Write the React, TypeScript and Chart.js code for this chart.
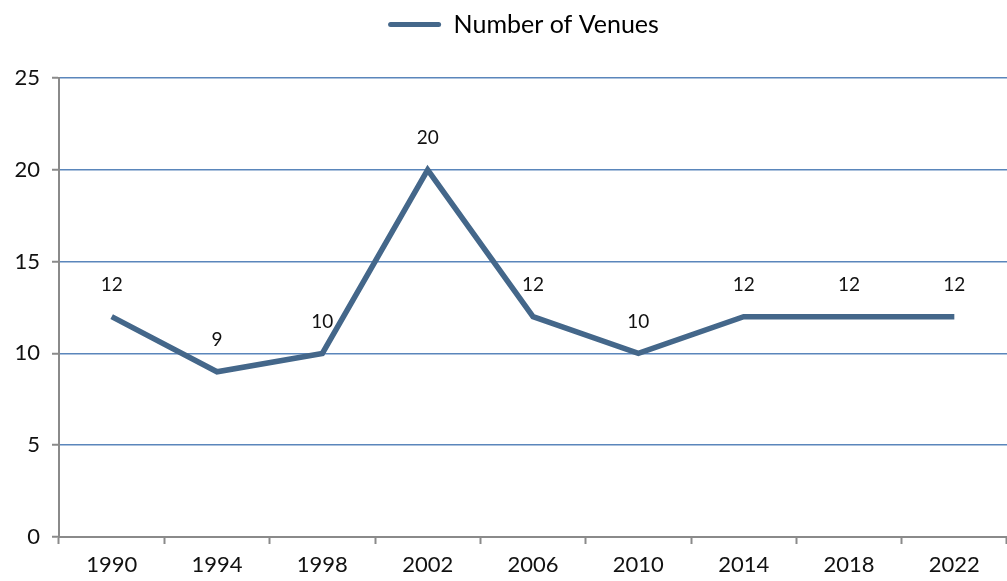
import React, { useEffect, useRef } from "react";
import { Chart, registerables } from "chart.js";

Chart.register(...registerables);

const categories = ["1990", "1994", "1998", "2002", "2006", "2010", "2014", "2018", "2022"];
const venues = [12, 9, 10, 20, 12, 10, 12, 12, 12];
const seriesLabel = "Number of Venues";

const FONT = "Lato, 'Open Sans', sans-serif";
const LINE_COLOR = "#44678a";
const GRID_COLOR = "#5a86bb";
const AXIS_COLOR = "#8a8a8a";

const dataLabelPlugin = {
  id: "dataLabels",
  afterDatasetsDraw(chart: any) {
    const ctx = chart.ctx;
    const meta = chart.getDatasetMeta(0);
    const data = chart.data.datasets[0].data;
    ctx.save();
    ctx.font = `19px ${FONT}`;
    ctx.fillStyle = "#111";
    ctx.textAlign = "center";
    ctx.textBaseline = "middle";
    meta.data.forEach((pt: any, i: number) => {
      ctx.fillText(String(data[i]), pt.x, pt.y - 32);
    });
    ctx.restore();
  },
};

const legendHeightPlugin = {
  id: "legendHeight",
  beforeInit(chart: any) {
    const l = chart.legend;
    if (!l) return;
    const f = l.fit;
    l.fit = function () {
      f.call(this);
      this.height = 78;
    };
  },
  afterLayout(chart: any) {
    const l = chart.legend;
    if (!l) return;
    l.left += 20;
    l.right += 20;
  },
};

export default function App() {
  const ref = useRef<HTMLCanvasElement | null>(null);
  useEffect(() => {
    if (!ref.current) return;
    const chart = new Chart(ref.current, {
      type: "line",
      data: {
        labels: categories,
        datasets: [
          {
            label: seriesLabel,
            data: venues,
            borderColor: LINE_COLOR,
            backgroundColor: LINE_COLOR,
            borderWidth: 5.5,
            pointRadius: 0,
            tension: 0,
            borderJoinStyle: "miter",
          },
        ],
      },
      options: {
        animation: false,
        responsive: true,
        maintainAspectRatio: false,
        layout: { padding: { left: 0, right: 0, top: 0, bottom: 0 } },
        plugins: {
          legend: {
            display: true,
            position: "top",
            labels: {
              font: { family: FONT, size: 25 },
              color: "#111",
              boxWidth: 53,
              boxHeight: 5,
              padding: 12,
              useBorderRadius: true,
              borderRadius: 2.5,
              generateLabels: () => [
                {
                  text: seriesLabel,
                  fillStyle: LINE_COLOR,
                  strokeStyle: LINE_COLOR,
                  lineWidth: 0,
                  hidden: false,
                  datasetIndex: 0,
                  borderRadius: 2.5,
                },
              ],
            },
          },
          tooltip: { enabled: false },
        },
        scales: {
          x: {
            offset: true,
            grid: {
              offset: true,
              drawOnChartArea: false,
              drawTicks: true,
              tickLength: 7,
              tickColor: AXIS_COLOR,
              tickWidth: 2,
            },
            border: { color: AXIS_COLOR, width: 2 },
            ticks: {
              font: { family: FONT, size: 22 },
              color: "#111",
              padding: 8,
              maxRotation: 0,
            },
            afterFit(scale: any) {
              scale.height = 44;
            },
          },
          y: {
            min: 0,
            max: 25,
            ticks: {
              stepSize: 5,
              font: { family: FONT, size: 22 },
              color: "#111",
              padding: 12,
            },
            grid: {
              color: GRID_COLOR,
              lineWidth: 1.5,
              drawTicks: true,
              tickLength: 7,
              tickColor: AXIS_COLOR,
              tickWidth: 2,
            },
            border: { color: AXIS_COLOR, width: 2 },
            afterFit(scale: any) {
              scale.width = 59;
            },
          },
        },
      },
      plugins: [dataLabelPlugin, legendHeightPlugin],
    });
    return () => chart.destroy();
  }, []);

  return (
    <div style={{ position: "absolute", left: 0, top: 0, width: 1007, height: 581 }}>
      <canvas ref={ref} />
    </div>
  );
}
